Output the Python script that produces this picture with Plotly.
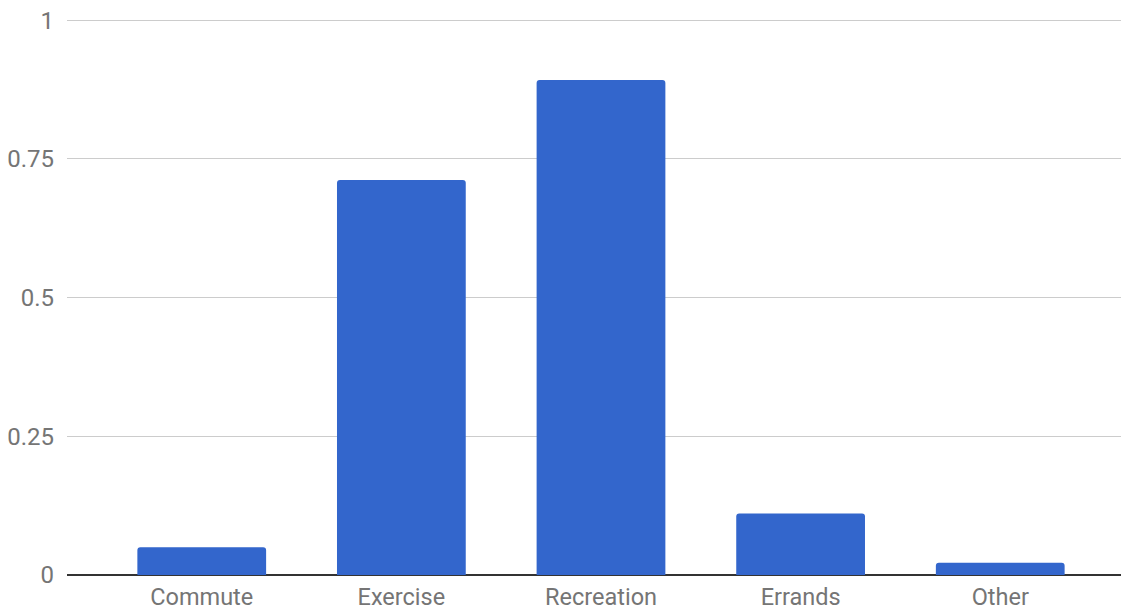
import plotly.graph_objects as go

categories = ["Commute", "Exercise", "Recreation", "Errands", "Other"]
values = [0.05, 0.712, 0.892, 0.111, 0.022]
y_ticks = [0, 0.25, 0.5, 0.75, 1]
y_tick_labels = ["0", "0.25", "0.5", "0.75", "1"]

fig = go.Figure(
    go.Bar(
        x=categories,
        y=values,
        marker=dict(color="#3366cc", cornerradius=3, line=dict(width=0)),
        width=0.645,
    )
)

fig.update_layout(
    width=1121,
    height=604,
    margin=dict(l=59, r=3, t=11, b=37, autoexpand=False),
    paper_bgcolor="white",
    plot_bgcolor="white",
    showlegend=False,
    font=dict(family="Roboto", size=23, color="#757575"),
    xaxis=dict(
        range=[-0.675, 4.63],
        showgrid=False,
        showline=False,
        zeroline=False,
        ticks="",
        tickfont=dict(size=23.5, color="#757575"),
        ticklabelstandoff=5,
    ),
    yaxis=dict(
        range=[0, 1.002],
        tickvals=y_ticks,
        ticktext=y_tick_labels,
        showgrid=True,
        gridcolor="#cccccc",
        gridwidth=1,
        zeroline=True,
        zerolinecolor="#333333",
        zerolinewidth=2,
        showline=False,
        ticks="",
        ticklabelstandoff=12,
        ticklabeloverflow="allow",
        tickfont=dict(size=24, color="#757575"),
    ),
)

fig.write_html("out.html")
